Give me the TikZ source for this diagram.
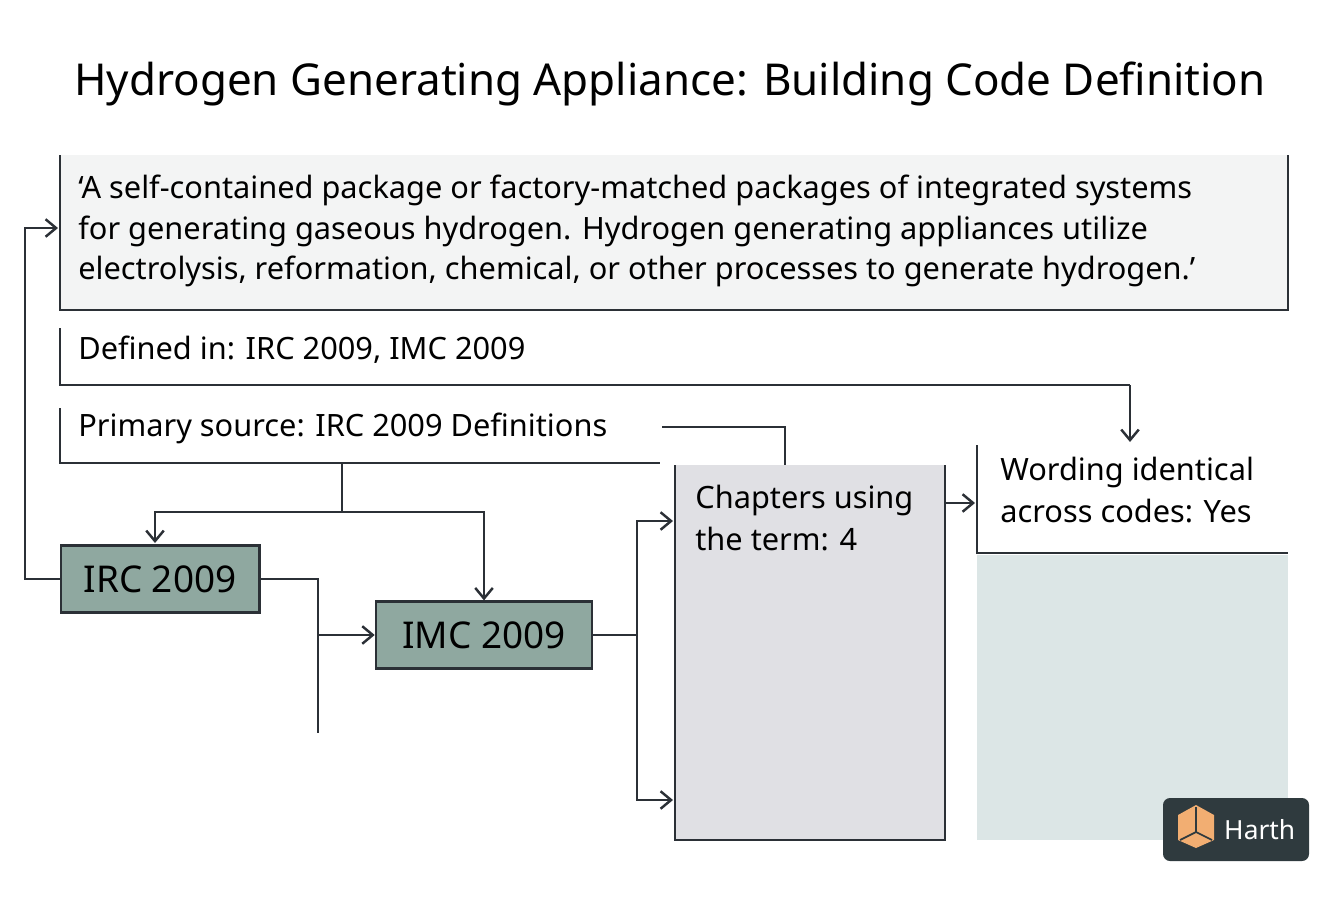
\documentclass[tikz,border=0pt]{standalone}
\usepackage{fontspec}
\setmainfont{Noto Sans}
\usetikzlibrary{positioning,arrows.meta}
\definecolor{inkc}{HTML}{2B3036}
\definecolor{defc}{HTML}{F3F4F4}
\definecolor{codec}{HTML}{8FA8A0}
\definecolor{chapc}{HTML}{E0E0E4}
\definecolor{areac}{HTML}{DCE6E6}
\definecolor{logoc}{HTML}{2F3A3E}
\definecolor{orangec}{HTML}{F2AE72}
\tikzset{
  line/.style={draw=inkc,line width=1.4pt},
  arr/.style={line,->,>={Straight Barb[length=6pt,width=10pt]}},
  txt/.style={anchor=west,inner sep=0pt,font=\fontsize{17.5}{24}\selectfont},
  codebox/.style={line,fill=codec,minimum height=38pt,inner sep=0pt,font=\fontsize{21}{24}\selectfont}
}
\begin{document}
\begin{tikzpicture}[x=0.02cm,y=-0.02cm]
            \useasboundingbox (0,0) rectangle (1344,896);
            \node[font=\fontsize{25}{30}\selectfont] (title) at (670,84) {Hydrogen Generating Appliance: Building Code Definition};
            % definition box
            \fill[defc] (60,155) rectangle (1288,310);
            \draw[line] (60,155) -- (60,310) -- (1288,310) -- (1288,155);
            \node[txt] (def1) at (78,190) {‘A self-contained package or factory-matched packages of integrated systems};
            \node[txt] (def2) at (78,231) {for generating gaseous hydrogen. Hydrogen generating appliances utilize};
            \node[txt] (def3) at (78,271) {electrolysis, reformation, chemical, or other processes to generate hydrogen.’};
            \coordinate (defin) at (58,228);
            % defined in
            \node[txt] (defined) at (78,350) {Defined in: IRC 2009, IMC 2009};
            \draw[line] (60,328) -- (60,385) -- (1130,385);
            % primary source
            \node[txt] (primary) at (78,428) {Primary source: IRC 2009 Definitions};
            \draw[line] (60,408) -- (60,463) -- (660,463);
            % chapters
            \fill[chapc] (675,465) rectangle (945,840);
            \draw[line] (675,465) -- (675,840) -- (945,840) -- (945,465);
            \node[txt,align=left,anchor=north west] (chapters) at (695,485) {Chapters using\\the term: 4};
            % wording
            \fill[areac] (977,555) rectangle (1288,840);
            \draw[line] (977,445) -- (977,553) -- (1288,553);
            \node[txt,align=left,anchor=north west] (wording) at (1000,457) {Wording identical\\across codes: Yes};
            % codes
            \node[codebox,minimum width=113pt] (irc) at (160,579) {IRC 2009};
            \node[codebox,minimum width=123pt] (imc) at (484,635) {IMC 2009};
            % connectors
            \draw[line] (342,463) -- (342,512);
            \draw[arr] (342,512) -| (155,543);
            \draw[arr] (342,512) -| (imc.north);
            \draw[arr] (irc.west) -- (25,579) |- (defin);
            \draw[line] (irc.east) -- (318,579) -- (318,733);
            \draw[arr] (318,635) -- (imc.west);
            \draw[line] (imc.east) -- (637,635);
            \draw[arr] (637,635) |- (673,521);
            \draw[arr] (637,635) |- (673,800);
            \draw[line] (662,427) -| (785,465);
            \draw[arr] (1130,385) -- (1130,442);
            \draw[arr] (945,503) -- (975,503);
            % logo
            \fill[logoc,rounded corners=4pt] (1163,798) rectangle (1309,861);
            \fill[orangec] (1178,815) -- (1196,805) -- (1214,815) -- (1214,840) -- (1196,848) -- (1178,840) -- cycle;
            \draw[logoc,line width=1pt] (1196,807) -- (1196,832) -- (1180,840) (1196,832) -- (1212,840);
            \node[anchor=west,text=white,font=\bfseries\fontsize{15}{18}\selectfont] (harth) at (1218,830) {Harth};
\end{tikzpicture}
\end{document}
